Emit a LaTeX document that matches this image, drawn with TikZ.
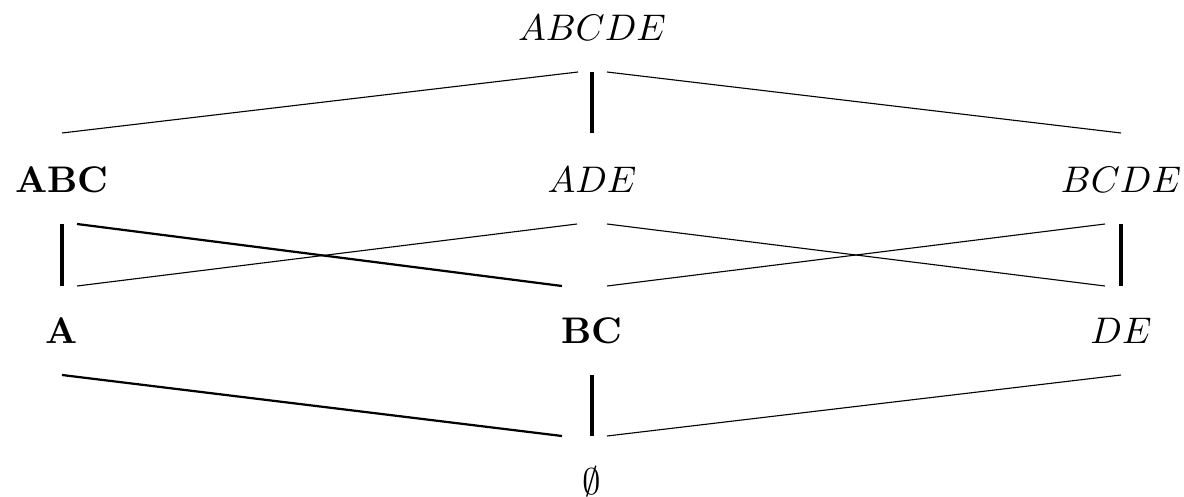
\documentclass[tikz,border=0pt]{standalone}
\begin{document}
\begin{tikzpicture}[x=0.27pt,y=-0.27pt,
  lbl/.style={anchor=base,inner sep=0pt,outer sep=0pt},
  thinedge/.style={line width=0.3pt},
  boldedge/.style={line width=0.6pt},
  vedge/.style={line width=1.1pt}]
\useasboundingbox (0,0) rectangle (1184,497);
% nodes
\node[lbl] (abcde) at (592,41) {$ABCDE$};
\node[lbl] (abc) at (62,193) {\textbf{ABC}};
\node[lbl] (ade) at (592,193) {$ADE$};
\node[lbl] (bcde) at (1121,193) {$BCDE$};
\node[lbl] (a) at (62,343) {\textbf{A}};
\node[lbl] (bc) at (592,343) {\textbf{BC}};
\node[lbl] (de) at (1121,343) {$DE$};
\node[lbl] (empty) at (592,494) {$\emptyset$};
% band 1
\draw[thinedge] ([shift={(-14,31)}]abcde.base) -- ([shift={(0,-60)}]abc.base);
\draw[thinedge] ([shift={(15,31)}]abcde.base) -- ([shift={(0,-60)}]bcde.base);
\draw[vedge] ([shift={(0,31)}]abcde.base) -- ([shift={(0,-60)}]ade.base);
% band 2
\draw[vedge] ([shift={(0,31)}]abc.base) -- ([shift={(0,-57)}]a.base);
\draw[boldedge] ([shift={(15,31)}]abc.base) -- ([shift={(-30,-57)}]bc.base);
\draw[thinedge] ([shift={(-15,31)}]ade.base) -- ([shift={(15,-57)}]a.base);
\draw[thinedge] ([shift={(15,31)}]ade.base) -- ([shift={(-16,-57)}]de.base);
\draw[thinedge] ([shift={(-16,31)}]bcde.base) -- ([shift={(15,-57)}]bc.base);
\draw[vedge] ([shift={(0,31)}]bcde.base) -- ([shift={(0,-57)}]de.base);
% band 3
\draw[boldedge] ([shift={(0,32)}]a.base) -- ([shift={(-30,-58)}]empty.base);
\draw[vedge] ([shift={(0,32)}]bc.base) -- ([shift={(0,-58)}]empty.base);
\draw[thinedge] ([shift={(0,32)}]de.base) -- ([shift={(15,-58)}]empty.base);
\end{tikzpicture}
\end{document}
